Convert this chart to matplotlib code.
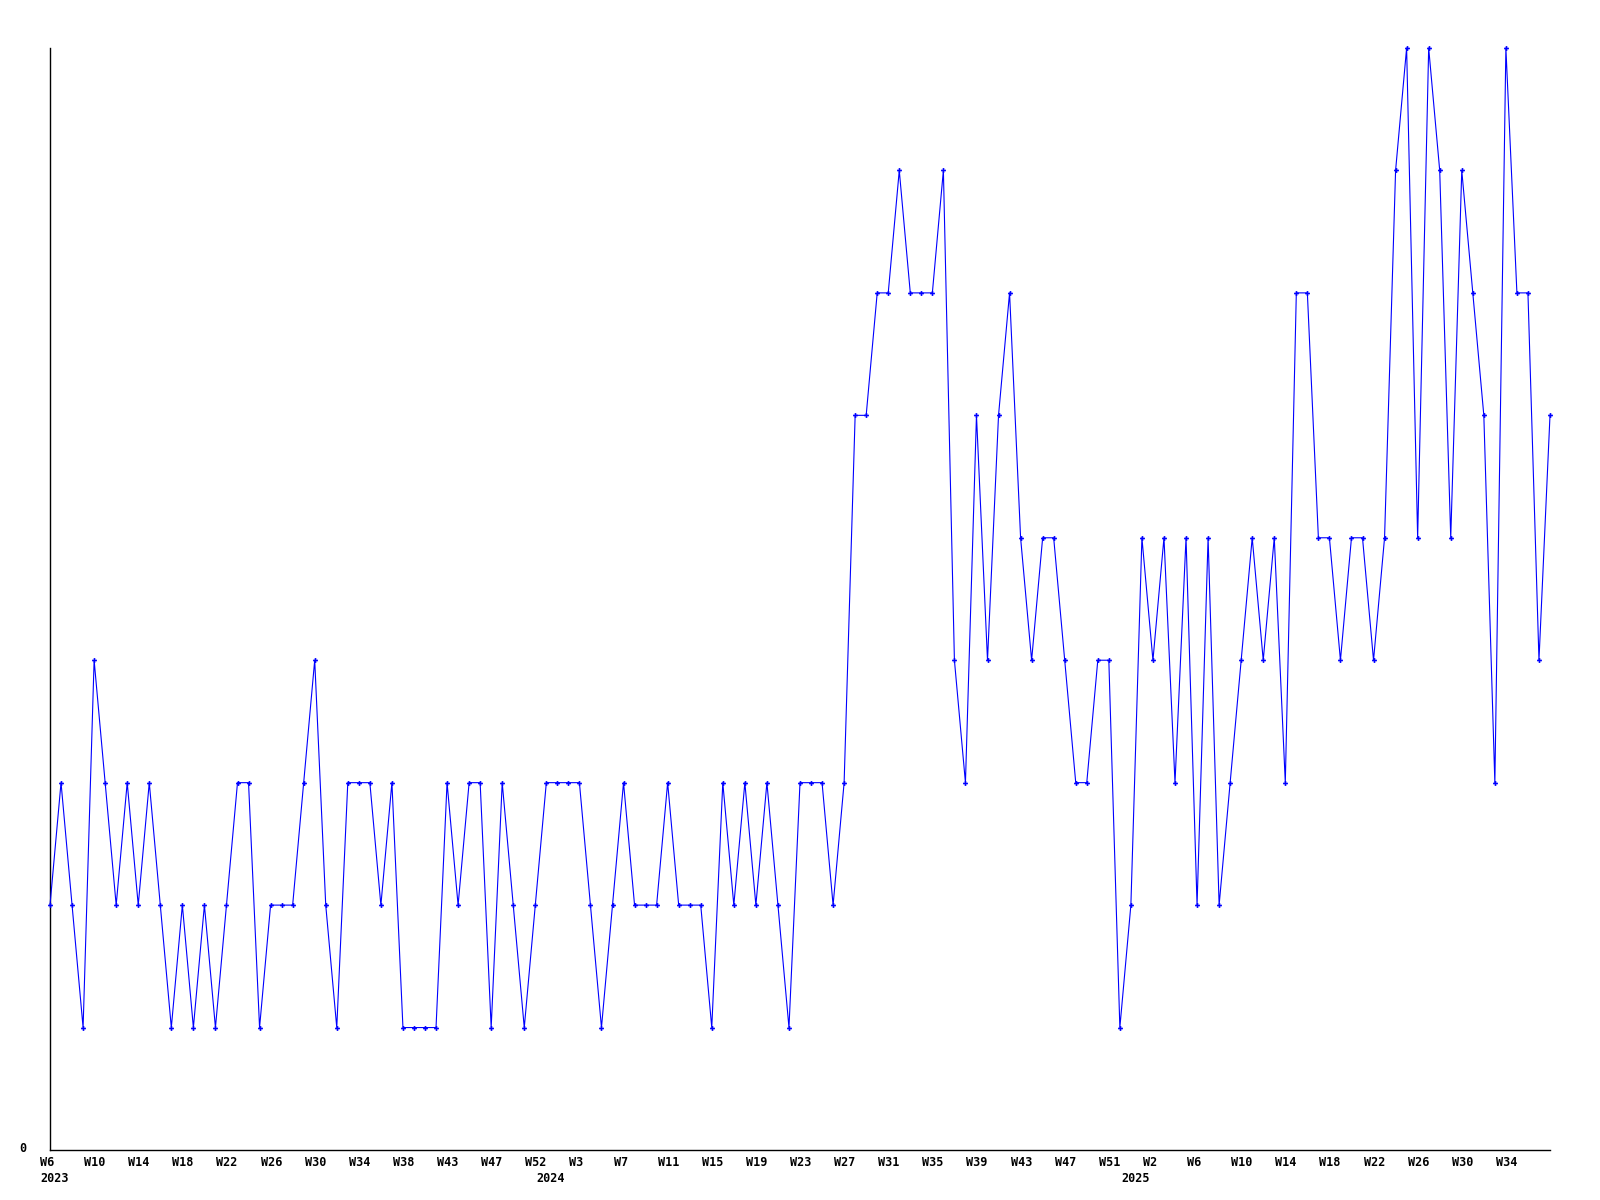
import matplotlib

matplotlib.use("Agg")
import matplotlib.pyplot as plt
import matplotlib.transforms as mtransforms

# weekly values, 2023 W6 .. 2025 (one point per week)
values = [
    2, 3, 2, 1, 4, 3, 2, 3, 2, 3,
    2, 1, 2, 1, 2, 1, 2, 3, 3, 1,
    2, 2, 2, 3, 4, 2, 1, 3, 3, 3,
    2, 3, 1, 1, 1, 1, 3, 2, 3, 3,
    1, 3, 2, 1, 2, 3, 3, 3, 3, 2,
    1, 2, 3, 2, 2, 2, 3, 2, 2, 2,
    1, 3, 2, 3, 2, 3, 2, 1, 3, 3,
    3, 2, 3, 6, 6, 7, 7, 8, 7, 7,
    7, 8, 4, 3, 6, 4, 6, 7, 5, 4,
    5, 5, 4, 3, 3, 4, 4, 1, 2, 5,
    4, 5, 3, 5, 2, 5, 2, 3, 4, 5,
    4, 5, 3, 7, 7, 5, 5, 4, 5, 5,
    4, 5, 8, 9, 5, 9, 8, 5, 8, 7,
    6, 3, 9, 7, 7, 4, 6,
]

week_labels = [
    "W6", "W10", "W14", "W18", "W22", "W26", "W30", "W34", "W38", "W43",
    "W47", "W52", "W3", "W7", "W11", "W15", "W19", "W23", "W27", "W31",
    "W35", "W39", "W43", "W47", "W51", "W2", "W6", "W10", "W14", "W18",
    "W22", "W26", "W30", "W34",
]
label_every = 4

year_labels = ["2023", "2024", "2025"]
year_start_idx = [0, 45, 98]

BLUE = "#0000ff"
FONT = dict(family="DejaVu Sans Mono", fontweight="bold", fontsize=8.5, color="black")

fig = plt.figure(figsize=(16, 12), dpi=100)
ax = fig.add_axes([50 / 1600, 50 / 1200, 1500 / 1600, 1102 / 1200])

x = list(range(len(values)))
ax.plot(x, values, color=BLUE, lw=0.8, marker="P", ms=3.5, mew=0,
        clip_on=False, zorder=3)

ax.set_xlim(0, len(values) - 1)
ax.set_ylim(0, max(values))
for side in ("top", "right"):
    ax.spines[side].set_visible(False)
for side in ("left", "bottom"):
    ax.spines[side].set_linewidth(1.0)
    ax.spines[side].set_color("black")
ax.set_xticks([]); ax.set_yticks([])

# x labels: left-aligned a bit before each tick position
blend = mtransforms.blended_transform_factory(ax.transData, ax.transAxes)
row1 = mtransforms.offset_copy(blend, fig=fig, x=-10, y=-12.5, units="dots")
row2 = mtransforms.offset_copy(blend, fig=fig, x=-10, y=-28, units="dots")
for i, lab in enumerate(week_labels):
    ax.text(i * label_every, 0, lab, transform=row1, ha="left", va="center", **FONT)
for idx, lab in zip(year_start_idx, year_labels):
    ax.text(idx, 0, lab, transform=row2, ha="left", va="center", **FONT)

# single y label at the origin
ylab = mtransforms.offset_copy(ax.transAxes, fig=fig, x=-24, y=1, units="dots")
ax.text(0, 0, "0", transform=ylab, ha="right", va="center", **FONT)

fig.savefig("out.png", dpi=100)
